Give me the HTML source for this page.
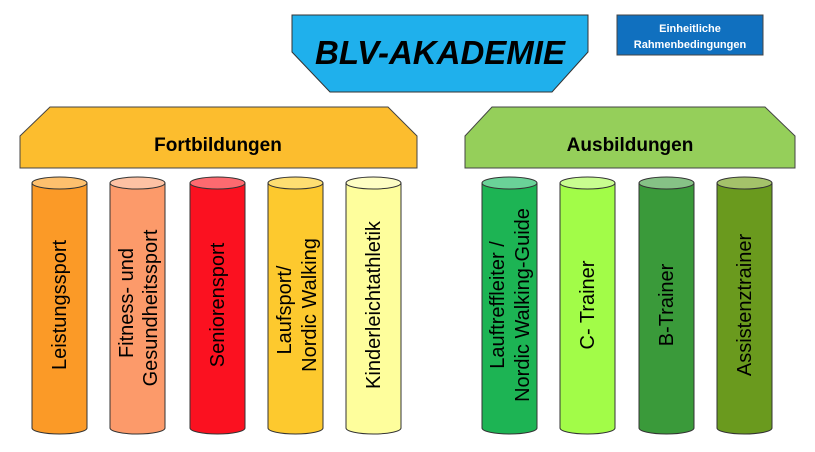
<!DOCTYPE html>
<html><head><style>body{margin:0;background:#fff}svg{display:block}</style></head><body>
<svg width="815" height="452" xmlns="http://www.w3.org/2000/svg" font-family="Liberation Sans, sans-serif">
<polygon points="292,15 588,15 588,52 552,92 330,92 292,52" fill="#1fb0ec" stroke="#333" stroke-width="1"/>
<text x="440" y="64" text-anchor="middle" font-size="33" font-weight="bold" font-style="italic" fill="#000">BLV-AKADEMIE</text>
<rect x="617" y="15" width="146" height="40" fill="#1070bf" stroke="#444" stroke-width="1"/>
<text x="690" y="32" text-anchor="middle" font-size="11" font-weight="bold" fill="#fff">Einheitliche</text>
<text x="690" y="48" text-anchor="middle" font-size="11" font-weight="bold" fill="#fff">Rahmenbedingungen</text>
<polygon points="50,107 388,107 417,136 417,168 20,168 20,136" fill="#fcbd2e" stroke="#444" stroke-width="1"/>
<text x="218" y="151" text-anchor="middle" font-size="19" font-weight="bold">Fortbildungen</text>
<polygon points="492,107 765,107 795,136 795,168 465,168 465,136" fill="#95cf5a" stroke="#444" stroke-width="1"/>
<text x="630" y="151" text-anchor="middle" font-size="19" font-weight="bold">Ausbildungen</text>
<g stroke="#333" stroke-width="1">
<path d="M32,183 V428 A27.5,6 0 0 0 87,428 V183" fill="#fb9a27"/><ellipse cx="59.5" cy="183" rx="27.5" ry="6" fill="#fdc06e"/>
<path d="M110,183 V428 A27.5,6 0 0 0 165,428 V183" fill="#fc9a6a"/><ellipse cx="137.5" cy="183" rx="27.5" ry="6" fill="#fdc2a4"/>
<path d="M190,183 V428 A27.5,6 0 0 0 245,428 V183" fill="#fb1120"/><ellipse cx="217.5" cy="183" rx="27.5" ry="6" fill="#fd6a70"/>
<path d="M268,183 V428 A27.5,6 0 0 0 323,428 V183" fill="#fdc92e"/><ellipse cx="295.5" cy="183" rx="27.5" ry="6" fill="#fede72"/>
<path d="M346,183 V428 A27.5,6 0 0 0 401,428 V183" fill="#fefe9c"/><ellipse cx="373.5" cy="183" rx="27.5" ry="6" fill="#fefec4"/>
<path d="M482,183 V428 A27.5,6 0 0 0 537,428 V183" fill="#1db454"/><ellipse cx="509.5" cy="183" rx="27.5" ry="6" fill="#6ad298"/>
<path d="M560,183 V428 A27.5,6 0 0 0 615,428 V183" fill="#a2fc48"/><ellipse cx="587.5" cy="183" rx="27.5" ry="6" fill="#c8fd90"/>
<path d="M639,183 V428 A27.5,6 0 0 0 694,428 V183" fill="#3a9a3a"/><ellipse cx="666.5" cy="183" rx="27.5" ry="6" fill="#86c286"/>
<path d="M717,183 V428 A27.5,6 0 0 0 772,428 V183" fill="#6a9a1e"/><ellipse cx="744.5" cy="183" rx="27.5" ry="6" fill="#a4c26a"/>
</g>
<g font-size="20" text-anchor="middle" fill="#000">
<text transform="translate(66,305) rotate(-90)">Leistungssport</text>
<text transform="translate(133,303) rotate(-90)">Fitness- und</text>
<text transform="translate(157,308) rotate(-90)">Gesundheitssport</text>
<text transform="translate(224,305) rotate(-90)">Seniorensport</text>
<text transform="translate(291,310) rotate(-90)">Laufsport/</text>
<text transform="translate(316,305) rotate(-90)">Nordic Walking</text>
<text transform="translate(380,305) rotate(-90)">Kinderleichtathletik</text>
<text transform="translate(504,305) rotate(-90)">Lauftreffleiter /</text>
<text transform="translate(529,305) rotate(-90)">Nordic Walking-Guide</text>
<text transform="translate(594,305) rotate(-90)">C- Trainer</text>
<text transform="translate(673,305) rotate(-90)">B-Trainer</text>
<text transform="translate(751,305) rotate(-90)">Assistenztrainer</text>
</g>
</svg>
</body></html>
